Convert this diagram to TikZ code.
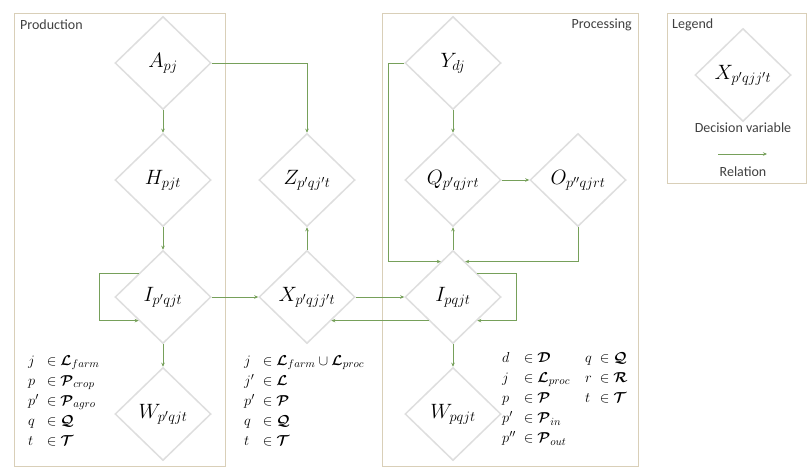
\documentclass[tikz,border=0pt]{standalone}
\usepackage{amsmath,bm}
\usepackage{fontspec}
\setmainfont{Carlito}
\usetikzlibrary{shapes.geometric,arrows.meta,calc}
\definecolor{dgray}{HTML}{DEDEDE}
\definecolor{relc}{HTML}{76A05A}
\definecolor{boxc}{HTML}{D9CFB8}
\begin{document}
\begin{tikzpicture}[x=1pt,y=-1pt,
  var/.style={shape=diamond, draw=dgray, line width=1.5pt, fill=white,
    minimum width=96pt, minimum height=93pt, inner sep=0pt,
    font=\fontsize{21}{24}\selectfont},
  rel/.style={draw=relc, line width=1pt, -{Stealth[length=4pt,width=3.5pt]}},
  area/.style={draw=boxc, line width=0.9pt},
  lbl/.style={font=\fontsize{14}{16}\selectfont, text=black!75, inner sep=0pt},
  sets/.style={font=\fontsize{15}{18}\selectfont, anchor=north west, inner sep=0pt}]
\useasboundingbox (0,0) rectangle (809,469);
\fill[white] (0,0) rectangle (809,469);
% areas
\draw[area] (14,13) rectangle (225,466);
\draw[area] (382,13) rectangle (638,466);
\draw[area] (667,13) rectangle (806,183);
\node[lbl, anchor=west] (prod) at (20,25) {Production};
\node[lbl, anchor=east] (proc) at (632,25) {Processing};
\node[lbl, anchor=west] (leg) at (672,25) {Legend};
% variables
\node[var] (A) at (163,63) {$A_{pj}$};
\node[var] (H) at (163,180) {$H_{pjt}$};
\node[var] (Ipr) at (163,297) {$I_{p'qjt}$};
\node[var] (Wpr) at (163,414) {$W_{p'qjt}$};
\node[var] (Z) at (307,180) {$Z_{p'qj't}$};
\node[var] (X) at (307,297) {$X_{p'qjj't}$};
\node[var] (Y) at (453,63) {$Y_{dj}$};
\node[var] (Q) at (453,180) {$Q_{p'qjrt}$};
\node[var] (O) at (578,180) {$O_{p''qjrt}$};
\node[var] (Ip) at (453,297) {$I_{pqjt}$};
\node[var] (Wp) at (453,414) {$W_{pqjt}$};
\node[var] (Leg) at (743,75) {$X_{p'qjj't}$};
\node[lbl] (dv) at (743,128) {Decision variable};
\node[lbl] (rl) at (743,172) {Relation};
\coordinate (la) at (718,154);
\coordinate (lb) at (767,154);
% relations
\draw[rel] (A) -- (H);
\draw[rel] (A.east) -| (Z.north);
\draw[rel] (H) -- (Ipr);
\draw[rel] ($(Ipr.west)!0.5!(Ipr.north)$) -- ++(-39,0) |- ($(Ipr.west)!0.5!(Ipr.south)$);
\draw[rel] (Ipr) -- (Wpr);
\draw[rel] (Ipr.east) -- (X.west);
\draw[rel] (X) -- (Z);
\draw[rel] (X.east) -- (Ip.west);
\draw[rel] ($(Ip.west)!0.5!(Ip.south)$) -- ($(X.east)!0.5!(X.south)$);
\draw[rel] ($(Ip.east)!0.5!(Ip.north)$) -- ++(39,0) |- ($(Ip.east)!0.5!(Ip.south)$);
\draw[rel] (Y) -- (Q);
\draw[rel] (Y.west) -- ++(-16,0) |- ($(Ip.west)!0.75!(Ip.north)$);
\draw[rel] (Q) -- (O);
\draw[rel] (Ip) -- (Q);
\draw[rel] (O.south) |- ($(Ip.east)!0.75!(Ip.north)$);
\draw[rel] (Ip) -- (Wp);
\draw[rel] (la) -- (lb);
% index sets
\renewcommand{\arraystretch}{1.12}
\node[sets] (sp) at (28,351) {$\begin{array}{@{}l@{\;\;}l@{}}
 j & \in \bm{\mathcal{L}}_{farm}\\
 p & \in \bm{\mathcal{P}}_{crop}\\
 p' & \in \bm{\mathcal{P}}_{agro}\\
 q & \in \bm{\mathcal{Q}}\\
 t & \in \bm{\mathcal{T}}
\end{array}$};
\node[sets] (sx) at (244,351) {$\begin{array}{@{}l@{\;\;}l@{}}
 j & \in \bm{\mathcal{L}}_{farm}\cup\bm{\mathcal{L}}_{proc}\\
 j' & \in \bm{\mathcal{L}}\\
 p' & \in \bm{\mathcal{P}}\\
 q & \in \bm{\mathcal{Q}}\\
 t & \in \bm{\mathcal{T}}
\end{array}$};
\node[sets] (sq) at (502,348) {$\begin{array}{@{}l@{\;\;}l@{\quad}l@{\;\;}l@{}}
 d & \in \bm{\mathcal{D}} & q & \in \bm{\mathcal{Q}}\\
 j & \in \bm{\mathcal{L}}_{proc} & r & \in \bm{\mathcal{R}}\\
 p & \in \bm{\mathcal{P}} & t & \in \bm{\mathcal{T}}\\
 p' & \in \bm{\mathcal{P}}_{in} & & \\
 p'' & \in \bm{\mathcal{P}}_{out} & &
\end{array}$};
\end{tikzpicture}
\end{document}
